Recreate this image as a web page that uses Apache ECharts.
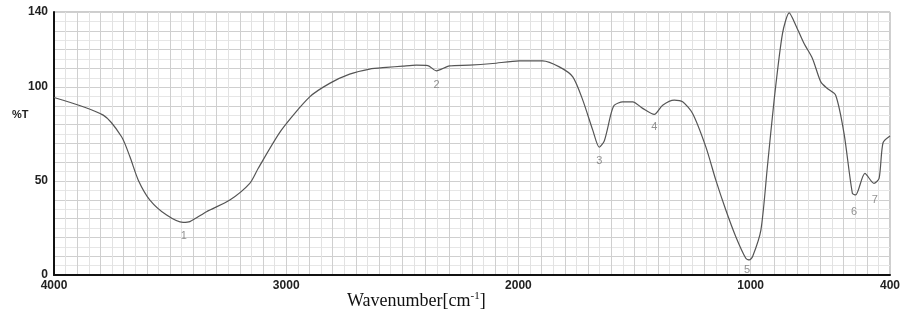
<!DOCTYPE html>
<html>
<head>
<meta charset="utf-8">
<script src="https://cdn.jsdelivr.net/npm/echarts@6/dist/echarts.min.js"></script>
<style>html,body{margin:0;padding:0;background:#fff;}#c{width:904px;height:322px;}</style>
</head>
<body>
<div id="c"></div>
<script>
// Wavenumber (cm-1) and %T
const wavenumbers = [4000,3788,3709,3673,3637,3587,3515,3444,3415,3343,3243,3157,3121,3021,2899,2813,2727,2641,2569,2498,2440,2390,2354,2297,2211,2111,1996,1896,1824,1766,1723,1680,1652,1630,1601,1587,1551,1508,1465,1415,1379,1329,1293,1250,1193,1150,1107,1064,1021,1006,992,956,928,899,863,834,806,770,734,698,670,634,598,562,548,508,469,447,430,400];
const transmittance = [94.5,85.1,73.6,62.9,50.5,39.9,31.9,28,28.4,33.7,39.9,48.8,56.7,77.1,94.8,102,106.9,109.6,110.5,111.2,111.7,111.5,108.7,111.3,111.7,112.6,114,114,110.8,105.5,93.1,77.1,68,71.5,86,90.4,92.2,92.2,88.7,85.5,90.4,93.1,92.2,86,68.2,50.5,34.6,20.4,8.9,8,9.7,23.9,57.6,93.1,128.5,139.5,133,123.2,115.3,102.8,99.3,95.7,75.4,43.5,42.6,54.1,48.8,51.4,70.4,74];
const peakNames = ['1','2','3','4','5','6','7'];
const peakX = [3441,2353,1652,1415,1015,555,465];
const peakY = [20.7,101,60.6,78.7,2.7,33.5,39.9];
const xTickLabels = [4000,3000,2000,1000,400];
const yTickLabels = [0,50,100,140];

const chart = echarts.init(document.getElementById('c'), null, {renderer:'canvas'});
const lineData = wavenumbers.map((w,i)=>[w, transmittance[i]]);
const peakData = peakNames.map((n,i)=>({name:n, value:[peakX[i], peakY[i]]}));

chart.setOption({
  backgroundColor:'#fff',
  animation:false,
  grid:{left:54, right:14, top:12, bottom:47, show:true, borderColor:'#9a9a9a', borderWidth:1},
  xAxis:{
    type:'value', inverse:true, min:400, max:4000, interval:100,
    axisLine:{show:true, onZero:false, lineStyle:{color:'#111', width:2}},
    axisTick:{show:false},
    axisLabel:{interval:0, showMinLabel:true, showMaxLabel:true, hideOverlap:false,
      fontFamily:'Liberation Sans, Arial', fontWeight:'bold', fontSize:12, color:'#222', margin:5,
      formatter:v=> xTickLabels.indexOf(v)>=0 ? String(v) : ''},
    splitLine:{show:true, lineStyle:{color:'#cfcfcf', width:1}},
    minorTick:{show:false, splitNumber:2},
    minorSplitLine:{show:true, lineStyle:{color:'#e2e2e2', width:1}}
  },
  yAxis:{
    type:'value', min:0, max:140, interval:10,
    axisLine:{show:true, lineStyle:{color:'#111', width:2}},
    axisTick:{show:false},
    axisLabel:{showMinLabel:true, showMaxLabel:true,
      fontFamily:'Liberation Sans, Arial', fontWeight:'bold', fontSize:12, color:'#222', margin:6,
      formatter:v=> yTickLabels.indexOf(v)>=0 ? String(v) : ''},
    splitLine:{show:true, lineStyle:{color:'#cfcfcf', width:1}},
    minorTick:{show:false, splitNumber:2},
    minorSplitLine:{show:true, lineStyle:{color:'#e6e6e6', width:1}}
  },
  series:[
    {type:'line', data:lineData, smooth:0.25, showSymbol:false, symbol:'none',
     lineStyle:{color:'#555', width:1.2}, z:3},
    {type:'scatter', data:peakData, symbolSize:2, itemStyle:{color:'rgba(0,0,0,0)'}, z:4,
     label:{show:true, position:'inside', formatter:'{b}', color:'#777', fontSize:11,
       fontFamily:'Liberation Sans, Arial'}}
  ],
  graphic:[
    {type:'text', left:12, top:109, style:{text:'%T', fontFamily:'Liberation Sans, Arial', fontWeight:'bold', fontSize:11, fill:'#222'}},
    {type:'text', left:347, top:291, style:{
      text:'{a|Wavenumber[cm}{s|-1}{a|]}',
      rich:{a:{fontFamily:'Liberation Serif, Times New Roman', fontSize:18, fill:'#111'},
            s:{fontFamily:'Liberation Serif, Times New Roman', fontSize:11, fill:'#111', verticalAlign:'top', padding:[0,0,9,0]}}}}
  ]
});
</script>
</body>
</html>
